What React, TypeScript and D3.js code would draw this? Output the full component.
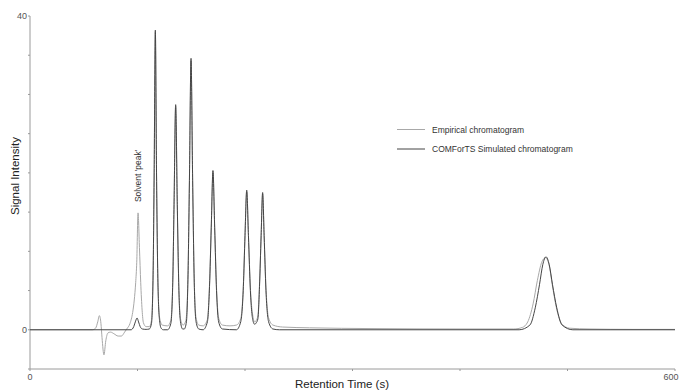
import * as d3 from 'd3'
import { useEffect, useRef } from 'react'

// [retention time (s), signal]
const empirical: [number, number][] = [
    [0, 0], [58, 0], [61, 0.2], [63, 1.0], [64.5, 1.8], [66, 0.8], [67, -1.0], [68.8, -3.2],
    [70.5, -1.4], [72.5, -0.4], [75, -0.3], [78, -0.5], [82, -0.8], [85, -0.8], [88, -0.3],
    [90, 0.1], [93, 0.8], [95.5, 2.2], [97, 3.8], [98.3, 6.0], [99.3, 8.6], [100.5, 14.9],
    [101.8, 10.5], [103, 6.0], [104.3, 2.5], [105.5, 0.9], [108, 0.4], [111, 0.4],
    [113, 1.2], [114.5, 7], [115.5, 20], [116.6, 38.0], [117.7, 20], [119, 6.2], [120.5, 1.6],
    [123, 0.6], [128, 0.5], [131, 1.2], [132.8, 6.2], [134, 16], [135.5, 28.5], [137, 16],
    [138.5, 5.4], [140, 1.4], [142.5, 0.6], [145, 1.2], [147, 7], [148.3, 19], [149.8, 34.3],
    [151.3, 19], [152.8, 6.2], [154.5, 1.5], [157, 0.6], [161, 0.5], [165, 1.3], [167, 5.8],
    [168.6, 13], [170.2, 20.0], [171.8, 13], [173.5, 5.4], [175.5, 1.5], [179, 0.6], [186, 0.5],
    [192, 0.6], [196, 1.4], [198.5, 5.8], [200, 12], [201.6, 17.6], [203.2, 12], [205, 5.4],
    [207.5, 1.6], [209, 1.0], [210.5, 1.2], [212, 1.8], [213.5, 5.8], [215, 12], [216.4, 17.3],
    [217.8, 12], [219.5, 5.4], [222, 1.5], [226, 0.6], [235, 0.35], [260, 0.25], [320, 0.15],
    [400, 0.1], [450, 0.1], [458, 0.3], [463, 1.0], [468, 3.3], [472, 6.3], [476, 8.6],
    [479.5, 9.2], [483, 8.2], [486, 5.6], [490, 2.6], [495, 0.7], [502, 0.2], [520, 0.1],
    [560, 0.05], [600, 0.05],
]

const simulated: [number, number][] = [
    [0, 0], [94, 0], [96.5, 0.4], [98.2, 1.1], [99.6, 1.5], [101, 1.0], [102.5, 0.4],
    [104.5, 0.1], [108, 0.05], [111, 0.1], [113, 0.8], [114.5, 7], [115.5, 20], [116.6, 38.2],
    [117.7, 20], [119, 6], [120.5, 1.2], [122, 0.2], [124, 0], [128, 0], [131, 0.8], [132.8, 6],
    [134, 16], [135.5, 28.7], [137, 16], [138.5, 5], [140, 1], [142, 0.1], [143.5, 0.1],
    [145.5, 1], [147, 7], [148.3, 19], [149.8, 34.6], [151.3, 19], [152.8, 6], [154.5, 1],
    [157, 0.1], [161, 0], [165, 1], [167, 5.5], [168.6, 13], [170.2, 20.3], [171.8, 13],
    [173.5, 5], [175.5, 1], [179, 0.1], [192, 0], [196, 1], [198.5, 5.5], [200, 12],
    [201.6, 17.8], [203.2, 12], [205, 5], [207.5, 1.1], [209, 0.7], [210.5, 0.9], [212, 1.4],
    [213.5, 5.5], [215, 12], [216.4, 17.5], [217.8, 12], [219.5, 5], [222, 1], [226, 0.1],
    [232, 0], [455, 0], [465, 0.6], [470, 2.8], [474, 5.8], [477, 8.3], [480, 9.3], [483, 8.3],
    [486, 5.8], [490, 2.8], [495, 0.6], [505, 0], [600, 0],
]

const xTicks = [0, 100, 200, 300, 400, 500, 600]
const xTickLabels = ['0', '', '', '', '', '', '600']
const yTicks = [-5, 0, 5, 10, 15, 20, 25, 30, 35, 40]
const yTickLabels = ['', '0', '', '', '', '', '', '', '', '40']

const series = [
    { name: 'Empirical chromatogram', data: empirical, color: '#a8a8a8', width: 1 },
    { name: 'COMForTS Simulated chromatogram', data: simulated, color: '#454545', width: 1 },
]

export default function App() {
    const svgRef = useRef<SVGSVGElement>(null)
    const width = 683
    const height = 390

    useEffect(() => {
        if (!svgRef.current) return
        const svg = d3.select(svgRef.current)
        svg.selectAll('*').remove()

        const x = d3.scaleLinear().domain([0, 600]).range([30, 675])
        const y = d3.scaleLinear().domain([-5, 40]).range([369, 16])
        const font = 'Liberation Sans, Arial, sans-serif'
        const axisColor = '#9a9a9a'

        // axes
        svg.append('line')
            .attr('x1', x(0)).attr('x2', x(600))
            .attr('y1', y(-5)).attr('y2', y(-5))
            .attr('stroke', axisColor)
        svg.append('line')
            .attr('x1', x(0)).attr('x2', x(0))
            .attr('y1', y(-5)).attr('y2', y(40))
            .attr('stroke', axisColor)

        xTicks.forEach((t, i) => {
            svg.append('line')
                .attr('x1', x(t)).attr('x2', x(t))
                .attr('y1', y(-5)).attr('y2', y(-5) + 2)
                .attr('stroke', axisColor)
            if (xTickLabels[i])
                svg.append('text')
                    .attr('x', x(t) - (t === 600 ? 4 : 0))
                    .attr('y', y(-5) + 11)
                    .attr('text-anchor', 'middle')
                    .attr('font-family', font)
                    .attr('font-size', 9)
                    .attr('fill', '#555')
                    .text(xTickLabels[i])
        })
        yTicks.forEach((t, i) => {
            svg.append('line')
                .attr('x1', x(0) - 2).attr('x2', x(0))
                .attr('y1', y(t)).attr('y2', y(t))
                .attr('stroke', axisColor)
            if (yTickLabels[i])
                svg.append('text')
                    .attr('x', x(0) - 3)
                    .attr('y', y(t) + 3)
                    .attr('text-anchor', 'end')
                    .attr('font-family', font)
                    .attr('font-size', 9)
                    .attr('fill', '#555')
                    .text(yTickLabels[i])
        })

        // axis titles
        svg.append('text')
            .attr('x', 342).attr('y', 388)
            .attr('text-anchor', 'middle')
            .attr('font-family', font)
            .attr('font-size', 11.5)
            .attr('fill', '#222')
            .text('Retention Time (s)')
        svg.append('text')
            .attr('transform', 'translate(19,176) rotate(-90)')
            .attr('text-anchor', 'middle')
            .attr('font-family', font)
            .attr('font-size', 11.5)
            .attr('fill', '#222')
            .text('Signal Intensity')

        // curves
        const line = d3.line<[number, number]>()
            .x((d) => x(d[0]))
            .y((d) => y(d[1]))
            .curve(d3.curveMonotoneX)
        series.forEach((s) => {
            svg.append('path')
                .datum(s.data)
                .attr('d', line)
                .attr('fill', 'none')
                .attr('stroke', s.color)
                .attr('stroke-width', s.width)
                .attr('stroke-linejoin', 'round')
        })

        // solvent annotation
        svg.append('text')
            .attr('transform', `translate(${x(100.5) + 3},${y(14.9) - 37}) rotate(-90)`)
            .attr('text-anchor', 'middle')
            .attr('font-family', font)
            .attr('font-size', 8.5)
            .attr('fill', '#333')
            .text("Solvent 'peak'")

        // legend
        series.forEach((s, i) => {
            const ly = 129.5 + i * 19.5
            svg.append('line')
                .attr('x1', 397).attr('x2', 425)
                .attr('y1', ly).attr('y2', ly)
                .attr('stroke', s.color)
                .attr('stroke-width', s.width)
            svg.append('text')
                .attr('x', 432).attr('y', ly + 3)
                .attr('font-family', font)
                .attr('font-size', 8.5)
                .attr('fill', '#333')
                .text(s.name)
        })
    }, [])

    return (
        <svg
            ref={svgRef}
            width={width}
            height={height}
            style={{ position: 'absolute', left: 0, top: 0, background: '#fff' }}
        />
    )
}
